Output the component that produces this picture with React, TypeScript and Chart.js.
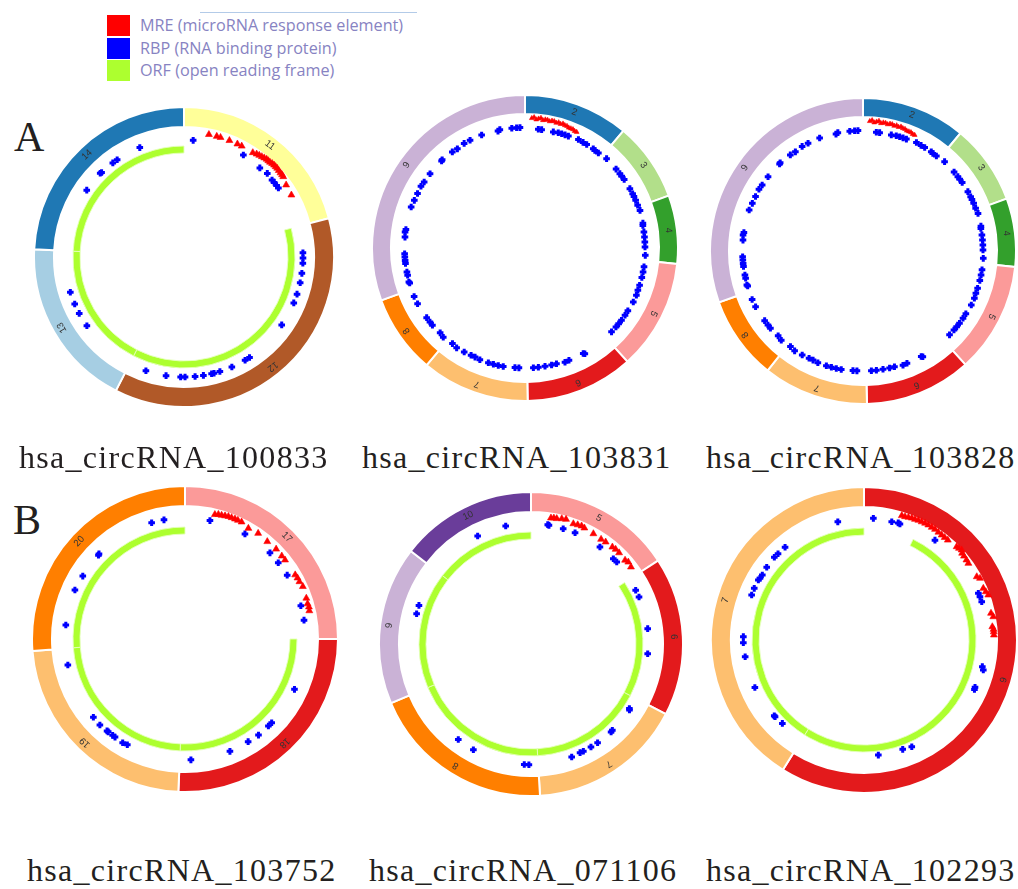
import React, { useEffect, useRef } from "react";
import { Chart, registerables } from "chart.js";

Chart.register(...registerables);

// ---------- colours (ColorBrewer Paired, by exon number) ----------
const EXON_COLORS: Record<string, string> = {
  "1": "#a6cee3", "2": "#1f78b4", "3": "#b2df8a", "4": "#33a02c", "5": "#fb9a99", "6": "#e31a1c",
  "7": "#fdbf6f", "8": "#ff7f00", "9": "#cab2d6", "10": "#6a3d9a", "11": "#ffff99", "12": "#b15928",
  "13": "#a6cee3", "14": "#1f78b4", "17": "#fb9a99", "18": "#e31a1c", "19": "#fdbf6f", "20": "#ff7f00",
};

// ---------- data: angles in degrees clockwise from top, radius in px ----------
// hsa_circRNA_100833
const A1_EXONS = ["11", "12", "13", "14"];
const A1_SPANS = [75, 132, 66, 87];
const A1_ORF_GAP = 75;
const A1_ORF_PARTS = [132, 66, 87];
const A1_MRE: [number, number][] = [
  [11.5, 125], [15.2, 125], [17, 125], [21.3, 125], [25.3, 125], [27.5, 125], [33.4, 125], [35.2, 126],
  [36.5, 126.5], [37.8, 127], [39, 127.5], [40.2, 128], [41.2, 128], [42.2, 128], [43.3, 128.5], [44.4, 128.7],
  [45.4, 128.7], [46.4, 128.7], [47.6, 128.3], [48.9, 128], [50, 128], [51, 127.7], [54.8, 125], [60, 124],
];
const A1_RBP: [number, number][] = [
  [4.5, 117], [338, 118], [325.5, 118], [322.9, 118], [315.7, 118], [315, 118.5], [304.5, 118], [30.2, 118],
  [40.4, 117], [44.9, 118], [48.8, 117], [50.4, 117], [52.3, 117], [53.8, 117], [88, 119], [90.5, 119],
  [93, 119], [97.9, 119], [102.5, 119], [108.2, 119], [112.7, 119], [124.8, 119], [146.9, 120], [149.4, 120],
  [156.5, 120], [162.6, 120], [165.5, 120], [166.7, 120], [170.7, 120], [174.7, 120], [179.5, 120], [181.6, 120],
  [188.6, 120], [198.5, 120], [234.7, 119], [241.7, 119], [246.7, 119], [252.8, 119],
];

// hsa_circRNA_103831
const A2_EXONS = ["2", "3", "4", "5", "6", "7", "8", "9"];
const A2_SPANS = [40, 30, 26, 42, 41, 41, 30, 110];
const A2_MRE: [number, number][] = [
  [3, 130], [4, 131], [5, 129], [6, 130], [7, 131], [8, 129], [9, 130], [10, 130], [11, 129], [12, 130],
  [13, 130], [14, 129], [15, 130], [16, 129], [17, 130], [18, 129], [19, 129], [20, 128], [21, 128],
  [22, 128], [23, 127], [24, 127],
];
const A2_RBP: [number, number][] = [
  [357.6, 120.5], [356, 120.5], [353.7, 120.5], [348, 121], [347, 120], [339, 121], [333, 121], [329.8, 121],
  [325.7, 120], [322.9, 120.5], [316.2, 120.5], [316.8, 121], [308, 120.5], [303.2, 120.5], [300.7, 121],
  [296.9, 120.5], [293.3, 120.5], [289.8, 121], [278.8, 120.5], [277.6, 121], [275.2, 120.5], [267.3, 120.5],
  [265.7, 120.5], [264.1, 120.5], [262.6, 120.5], [258.5, 120.5], [256.9, 120.5], [253.7, 121], [253.1, 120.5],
  [246.4, 121], [242.6, 121], [234.7, 120.5], [232.1, 120.5], [230.2, 120.5], [225, 120], [222.5, 121],
  [217.2, 120], [214.4, 121], [210.3, 120.5], [206.7, 120], [204.6, 120], [202, 120.5], [197.7, 120.5],
  [195.2, 120.5], [192.8, 120.5], [190.4, 120.5], [184.8, 120], [182.9, 120], [176, 120], [173.6, 120],
  [170.4, 120], [167.2, 120], [164.8, 120], [160.7, 121], [158.6, 120.5], [151.1, 120.5], [150.5, 121.5],
  [134.1, 120.5], [131, 120.5], [129, 120.5], [126.8, 120.5], [123.9, 120.5], [121.4, 120.5], [116.5, 121],
  [113, 121], [110.5, 120.5], [108, 120.5], [104.2, 120.5], [101.5, 120.5], [99, 120.5], [93.5, 120.5],
  [89.5, 120], [87.1, 120], [84.7, 120], [82.3, 120], [79.2, 120], [78.1, 120.5], [71.9, 121], [69.2, 120.5],
  [66.7, 120.5], [64.7, 120.5], [63.3, 120.5], [60.5, 120.5], [55.4, 120.5], [53.4, 120.5], [51.9, 120.5],
  [49.1, 120.5], [42.4, 121], [37.7, 120], [35.6, 120], [34.5, 120.5], [30.8, 120.5], [28.8, 120.5],
  [26.2, 121], [21.2, 120], [19.5, 120], [17.8, 120], [16.1, 120], [13.7, 119.5], [8, 119.5], [6.4, 119.5],
];

// hsa_circRNA_103828
const A3_EXONS = ["2", "3", "4", "5", "6", "7", "8", "9"];
const A3_SPANS = [39.6, 30.4, 26, 42, 40.5, 40.1, 31.8, 109.6];
const A3_MRE = A2_MRE;
const A3_RBP = A2_RBP;

// hsa_circRNA_103752
const B1_EXONS = ["17", "18", "19", "20"];
const B1_SPANS = [90, 92.5, 83, 94.5];
const B1_ORF_GAP = 90;
const B1_ORF_PARTS = [92.5, 83, 94.5];
const B1_MRE: [number, number][] = [
  [13.5, 128], [15, 129], [16.5, 129], [18, 129.5], [19.5, 130], [21, 130], [22.6, 130], [24, 130],
  [25.8, 130], [29.8, 127.5], [34.7, 128.5], [40.2, 127.5], [45.4, 128], [49.4, 127.5], [51.7, 127.5],
  [59.8, 127.5], [61.5, 128], [63.4, 128], [66, 129], [71.4, 128], [74, 127.5], [75.5, 128], [77.2, 127.5],
];
const B1_RBP: [number, number][] = [
  [11.9, 121], [29.7, 121], [44.6, 121], [50.7, 120.5], [58, 120.5], [74, 120.5], [81, 120.5], [114.7, 120.5],
  [134, 120.5], [136.2, 120.5], [142.6, 121], [148.4, 120.5], [158.2, 121], [177.2, 121], [208.6, 120.5],
  [211, 121], [215.5, 120.5], [216.9, 120.5], [219.6, 120.5], [220.3, 120.5], [224.7, 121], [229.5, 120.5],
  [257.5, 120], [276.7, 120], [294, 120.5], [301.6, 120], [314.1, 120.5], [314.7, 121], [344, 121], [350, 121],
];

// hsa_circRNA_071106
const B2_EXONS = ["5", "6", "7", "8", "9", "10"];
const B2_SPANS = [56.7, 60.8, 59.1, 70.5, 60.6, 52.3];
const B2_ORF_GAP = 56.7;
const B2_ORF_PARTS = [60.8, 59.1, 70.5, 60.6, 52.3];
const B2_MRE: [number, number][] = [
  [9, 127.6], [10.3, 128], [11.6, 128], [13.8, 129], [15.7, 129.5], [19.4, 127.5], [21.4, 128], [23.2, 128.4],
  [24.7, 127.7], [29.5, 126.7], [33.8, 126], [36.2, 126.4], [40, 126.6], [41.8, 127], [44, 126.8],
  [48.3, 126], [49.9, 127.2], [52.4, 126.2],
];
const B2_RBP: [number, number][] = [
  [8.6, 120], [8, 120.5], [15.6, 119.7], [21.6, 119.7], [35.4, 119], [44, 118.5], [46.3, 118.6], [62.8, 117.7],
  [66.5, 117.8], [82.5, 117.7], [94.8, 117.1], [123.3, 117.7], [123.8, 118.5], [136.7, 118.6], [137.7, 119],
  [146, 119.1], [149.8, 119.2], [154, 119.4], [155.7, 119.2], [160.2, 120.1], [181, 120.7], [183.2, 120.7],
  [208.6, 120.4], [217.3, 120], [284.8, 118.3], [289, 118.5], [333.7, 120.4], [347.9, 120.7],
];

// hsa_circRNA_102293
const B3_EXONS = ["6", "7"];
const B3_SPANS = [212, 148];
const B3_ORF_GAP = 26;
const B3_ORF_PARTS = [186, 148];
const B3_MRE: [number, number][] = [
  [16.9, 130], [18.4, 130], [19.9, 130.5], [21.4, 131], [22.9, 131], [24.4, 131.5], [26, 131.5], [27.6, 131.8],
  [29.2, 131.8], [31, 131.5], [32.7, 131.5], [34.6, 131], [36.5, 130.6], [38.2, 130.5], [40, 130.4],
  [44.8, 131.5], [46, 132], [47.3, 132.8], [48.5, 131], [50, 130.5], [52, 130], [53.7, 129.5], [60.7, 129.3],
  [62, 131.4], [66.6, 130], [68.4, 131], [70.1, 132.2], [78.1, 129.8], [79.8, 131.4], [84.1, 129],
  [85.3, 130], [86.4, 130], [87.8, 130],
];
const B3_RBP: [number, number][] = [
  [347.5, 121], [4.4, 122], [13.2, 121.5], [16.3, 122], [17.2, 121.5], [35.4, 122.5], [67.8, 123.5],
  [69.5, 123.8], [72, 123.8], [102.7, 121.3], [104.1, 123], [113.1, 120.7], [114.1, 121], [155.9, 117],
  [160.5, 116], [172.9, 116], [224.4, 116.7], [229.2, 117.5], [229.8, 117.5], [246.5, 119], [262, 120],
  [268.7, 120.7], [271.6, 120.7], [291.8, 121], [295.2, 121.3], [299.6, 121.5], [300.7, 121], [302.6, 120.7],
  [306.8, 121.5], [312.7, 122], [315.1, 121.8], [319.6, 121.8],
];

const LEGEND_ITEMS = ["MRE (microRNA response element)", "RBP (RNA binding protein)", "ORF (open reading frame)"];
const LEGEND_COLORS = ["#ff0000", "#0000ff", "#adff2f"];

// ---------- helpers ----------
const toXY = (pts: [number, number][]) =>
  pts.map(([deg, r]) => {
    const a = (deg * Math.PI) / 180;
    return { x: r * Math.sin(a), y: r * Math.cos(a) };
  });

const exonLabelPlugin = {
  id: "exonLabels",
  afterDatasetsDraw(chart: any) {
    const meta = chart.getDatasetMeta(0);
    const ctx = chart.ctx;
    ctx.save();
    ctx.font = '9.5px "Liberation Sans", Arial, sans-serif';
    ctx.fillStyle = "#333333";
    ctx.textAlign = "center";
    ctx.textBaseline = "middle";
    meta.data.forEach((arc: any, i: number) => {
      const p = arc.getProps(["startAngle", "endAngle", "innerRadius", "outerRadius", "x", "y"], true);
      const mid = (p.startAngle + p.endAngle) / 2;
      const rr = (p.innerRadius + p.outerRadius) / 2 + 1;
      ctx.save();
      ctx.translate(p.x + Math.cos(mid) * rr, p.y + Math.sin(mid) * rr);
      ctx.rotate(mid + Math.PI / 2);
      ctx.fillText(String(chart.data.labels[i]), 0, 0);
      ctx.restore();
    });
    ctx.restore();
  },
};

type PanelProps = {
  cx: number; cy: number; R: number; ringW: number;
  orfOuter?: number; orfInner?: number;
  exons: string[]; spans: number[];
  orfGap?: number; orfParts?: number[];
  mre: [number, number][]; rbp: [number, number][];
  triR: number;
};

function CirclePanel(props: PanelProps) {
  const ringRef = useRef<HTMLCanvasElement>(null);
  const ptRef = useRef<HTMLCanvasElement>(null);
  const { cx, cy, R, ringW, orfOuter, orfInner, exons, spans, orfGap, orfParts, mre, rbp, triR } = props;
  const S = 2 * R + 4;

  useEffect(() => {
    const hasOrf = orfParts && orfParts.length > 0 && orfOuter && orfInner;
    const datasets: any[] = [
      {
        data: spans,
        backgroundColor: exons.map((e) => EXON_COLORS[e]),
        borderColor: "#ffffff",
        borderWidth: 2,
        weight: ringW,
      },
    ];
    let cutoutPx = R - ringW;
    if (hasOrf) {
      datasets.push({
        data: [1],
        backgroundColor: ["rgba(0,0,0,0)"],
        borderWidth: 0,
        weight: R - ringW - (orfOuter as number),
      });
      datasets.push({
        data: [orfGap, ...(orfParts as number[])],
        backgroundColor: ["rgba(0,0,0,0)", ...(orfParts as number[]).map(() => "#adff2f")],
        borderColor: ["rgba(0,0,0,0)", ...(orfParts as number[]).map(() => "rgba(230,255,190,0.9)")],
        borderWidth: [0, ...(orfParts as number[]).map(() => 1)],
        weight: (orfOuter as number) - (orfInner as number),
      });
      cutoutPx = orfInner as number;
    }
    const ring = new Chart(ringRef.current as HTMLCanvasElement, {
      type: "doughnut",
      data: { labels: exons, datasets },
      options: {
        responsive: false,
        animation: false,
        events: [],
        radius: R,
        cutout: `${(cutoutPx / R) * 100}%`,
        layout: { padding: 0 },
        plugins: { legend: { display: false }, tooltip: { enabled: false } },
      } as any,
      plugins: [exonLabelPlugin],
    });

    const half = S / 2;
    const pts = new Chart(ptRef.current as HTMLCanvasElement, {
      type: "scatter",
      data: {
        datasets: [
          {
            data: toXY(mre),
            pointStyle: "triangle",
            pointRadius: triR,
            backgroundColor: "#ff0000",
            borderColor: "#ff0000",
            borderWidth: 0.6,
          },
          {
            data: toXY(rbp),
            pointStyle: "cross",
            pointRadius: 3.3,
            borderColor: "#0000ff",
            backgroundColor: "#0000ff",
            borderWidth: 3,
          },
        ],
      },
      options: {
        responsive: false,
        animation: false,
        events: [],
        clip: false,
        layout: { padding: 0, autoPadding: false },
        plugins: { legend: { display: false }, tooltip: { enabled: false } },
        scales: {
          x: { type: "linear", min: -half, max: half, display: false },
          y: { type: "linear", min: -half, max: half, display: false },
        },
      } as any,
    });
    return () => {
      ring.destroy();
      pts.destroy();
    };
  }, []);

  return (
    <div style={{ position: "absolute", left: cx - S / 2, top: cy - S / 2, width: S, height: S }}>
      <canvas ref={ringRef} width={S} height={S} style={{ position: "absolute", left: 0, top: 0, width: S, height: S }} />
      <canvas ref={ptRef} width={S} height={S} style={{ position: "absolute", left: 0, top: 0, width: S, height: S }} />
    </div>
  );
}

const titleStyle = (left: number, top: number): React.CSSProperties => ({
  position: "absolute",
  left,
  top,
  fontFamily: '"Liberation Serif", "Times New Roman", serif',
  fontSize: 32,
  lineHeight: "32px",
  letterSpacing: "1.3px",
  color: "#231f20",
  whiteSpace: "nowrap",
});

export default function App() {
  return (
    <div style={{ position: "absolute", left: 0, top: 0, width: 1018, height: 889, background: "#ffffff", overflow: "hidden" }}>
      {/* top rule */}
      <div style={{ position: "absolute", left: 200, top: 12, width: 217, height: 1, background: "#b3cbe8" }} />
      {/* legend */}
      {LEGEND_ITEMS.map((t, i) => (
        <React.Fragment key={t}>
          <div style={{ position: "absolute", left: 107, top: 15 + i * 22.7, width: 23, height: 21, background: LEGEND_COLORS[i] }} />
          <div
            style={{
              position: "absolute",
              left: 140,
              top: 15 + i * 22.7,
              height: 21,
              lineHeight: "21px",
              fontFamily: '"Open Sans", "Noto Sans", sans-serif',
              fontSize: 16.2,
              color: "#8783c2",
              whiteSpace: "nowrap",
            }}
          >
            {t}
          </div>
        </React.Fragment>
      ))}

      <div style={{ ...titleStyle(14, 116), fontSize: 42, lineHeight: "42px", letterSpacing: 0 }}>A</div>
      <div style={{ ...titleStyle(13, 499), fontSize: 42, lineHeight: "42px", letterSpacing: 0 }}>B</div>

      <CirclePanel cx={184} cy={257} R={150} ringW={20} orfOuter={111} orfInner={104}
        exons={A1_EXONS} spans={A1_SPANS} orfGap={A1_ORF_GAP} orfParts={A1_ORF_PARTS} mre={A1_MRE} rbp={A1_RBP} triR={4} />
      <CirclePanel cx={525} cy={248} R={153} ringW={19}
        exons={A2_EXONS} spans={A2_SPANS} mre={A2_MRE} rbp={A2_RBP} triR={2.8} />
      <CirclePanel cx={863} cy={251} R={153} ringW={19}
        exons={A3_EXONS} spans={A3_SPANS} mre={A3_MRE} rbp={A3_RBP} triR={2.8} />
      <CirclePanel cx={185} cy={639} R={153} ringW={20} orfOuter={112} orfInner={105}
        exons={B1_EXONS} spans={B1_SPANS} orfGap={B1_ORF_GAP} orfParts={B1_ORF_PARTS} mre={B1_MRE} rbp={B1_RBP} triR={4} />
      <CirclePanel cx={531} cy={644} R={152} ringW={20} orfOuter={112} orfInner={105}
        exons={B2_EXONS} spans={B2_SPANS} orfGap={B2_ORF_GAP} orfParts={B2_ORF_PARTS} mre={B2_MRE} rbp={B2_RBP} triR={4} />
      <CirclePanel cx={864} cy={640} R={153} ringW={20} orfOuter={112} orfInner={105}
        exons={B3_EXONS} spans={B3_SPANS} orfGap={B3_ORF_GAP} orfParts={B3_ORF_PARTS} mre={B3_MRE} rbp={B3_RBP} triR={4} />

      <div style={titleStyle(19, 441)}>hsa_circRNA_100833</div>
      <div style={titleStyle(362, 441)}>hsa_circRNA_103831</div>
      <div style={titleStyle(706, 441)}>hsa_circRNA_103828</div>
      <div style={titleStyle(27, 854)}>hsa_circRNA_103752</div>
      <div style={titleStyle(369, 854)}>hsa_circRNA_071106</div>
      <div style={titleStyle(706, 854)}>hsa_circRNA_102293</div>
    </div>
  );
}
